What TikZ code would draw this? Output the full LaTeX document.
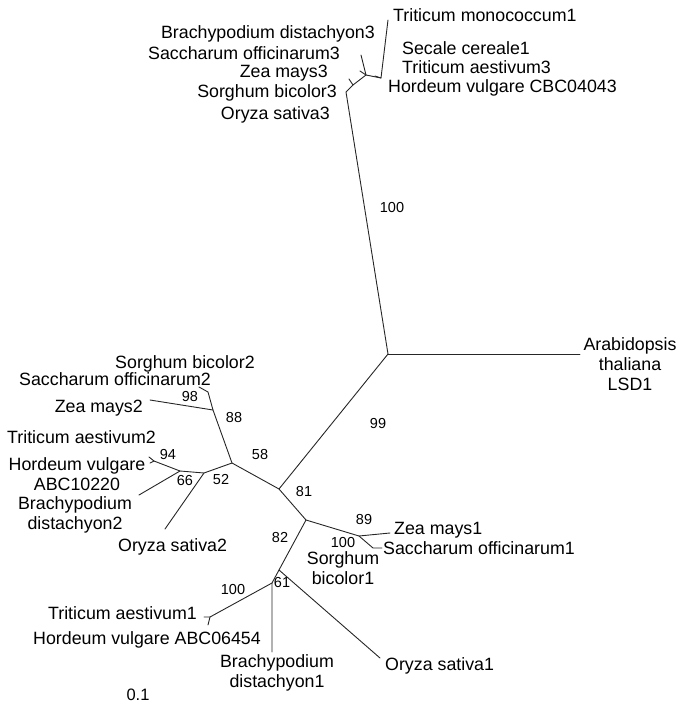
\documentclass[tikz,border=0pt]{standalone}
\usepackage{fontspec}
\setmainfont{Liberation Sans}
\usetikzlibrary{positioning}
\tikzset{
  br/.style={draw=black!85,line width=0.9pt,line cap=round,line join=round},
  taxon/.style={font=\fontsize{17.8}{20}\selectfont,inner sep=0pt,align=center},
  boot/.style={font=\fontsize{14.5}{16}\selectfont,inner sep=0pt},
  scl/.style={font=\fontsize{16.5}{18}\selectfont,inner sep=0pt}
}
\begin{document}
\begin{tikzpicture}[x=1pt,y=-1pt]
\useasboundingbox (0,0) rectangle (680,704);
% inner nodes
\coordinate (c) at (388,354);
\coordinate (t1) at (346,92);
\coordinate (t2) at (353,85);
\coordinate (t4) at (366,75);
\coordinate (t5) at (381,78);
\coordinate (n81) at (279,489);
\coordinate (n58) at (232,463);
\coordinate (n98) at (213,410);
\coordinate (n52) at (204,473);
\coordinate (n66) at (180,471);
\coordinate (h2) at (154,461);
\coordinate (n82) at (306,520);
\coordinate (n89) at (359,536);
\coordinate (na) at (279,570);
\coordinate (nb) at (272,583);
\coordinate (n100) at (210,617);
% tips
\coordinate (arab) at (580,354);
\coordinate (mono) at (388,20);
\coordinate (k1) at (349,79);
\coordinate (k2) at (361,55);
\coordinate (k3) at (360,71);
\coordinate (k4) at (375,76);
\coordinate (zea2) at (150,400);
\coordinate (s2a) at (208,392);
\coordinate (s2b) at (199,387);
\coordinate (h2a) at (149,457);
\coordinate (h2b) at (150,463);
\coordinate (bra2) at (139,495);
\coordinate (ory2) at (165,529);
\coordinate (zea1) at (390,533);
\coordinate (s1a) at (373,548);
\coordinate (s1b) at (382,548);
\coordinate (ory1) at (380,658);
\coordinate (bra1) at (272,652);
\coordinate (ta1) at (204,617);
\coordinate (hv1) at (208,625);

% branches
\draw[br] (c) -- (arab);
\draw[br] (c) -- (t1) -- (t2) -- (t4) -- (t5) -- (mono);
\draw[br] (t2) -- (k1);
\draw[br] (t4) -- (k2);
\draw[br] (t4) -- (k3);
\draw[br] (t5) -- (k4);
\draw[br] (c) -- (n81) -- (n58) -- (n98) -- (zea2);
\draw[br] (n98) -- (s2a) -- (s2b);
\draw[br] (n58) -- (n52) -- (n66) -- (h2) -- (h2a);
\draw[br] (h2) -- (h2b);
\draw[br] (n66) -- (bra2);
\draw[br] (n52) -- (ory2);
\draw[br] (n81) -- (n82) -- (n89) -- (zea1);
\draw[br] (n89) -- (s1a) -- (s1b);
\draw[br] (n82) -- (na) -- (ory1);
\draw[br] (na) -- (nb) -- (bra1);
\draw[br] (nb) -- (n100) -- (ta1);
\draw[br] (n100) -- (hv1);

% taxa
\node[taxon,anchor=base west] (lmono) at (393,21) {Triticum monococcum1};
\node[taxon,anchor=base west] (lsec) at (402,54) {Secale cereale1};
\node[taxon,anchor=base west] (lta3) at (402,73) {Triticum aestivum3};
\node[taxon,anchor=base west] (lhv3) at (388,92) {Hordeum vulgare CBC04043};
\node[taxon,anchor=base east] (lbd3) at (375,38) {Brachypodium distachyon3};
\node[taxon,anchor=base east] (lso3) at (340,59) {Saccharum officinarum3};
\node[taxon,anchor=base east] (lzm3) at (328,77) {Zea mays3};
\node[taxon,anchor=base east] (lsb3) at (337,97) {Sorghum bicolor3};
\node[taxon,anchor=base east] (los3) at (330,119) {Oryza sativa3};
\node[taxon] (larab) at (630,364) {Arabidopsis\\thaliana\\LSD1};
\node[taxon,anchor=base] (lsb2) at (185,368) {Sorghum bicolor2};
\node[taxon,anchor=base east] (lso2) at (211,385) {Saccharum officinarum2};
\node[taxon,anchor=base east] (lzm2) at (143,412) {Zea mays2};
\node[taxon,anchor=base west] (lta2) at (7,443) {Triticum aestivum2};
\node[taxon] (lhv2) at (77,474) {Hordeum vulgare\\ABC10220};
\node[taxon] (lbd2) at (75,515) {Brachypodium\\distachyon2};
\node[taxon,anchor=base west] (los2) at (118,551) {Oryza sativa2};
\node[taxon,anchor=base west] (lzm1) at (394,534) {Zea mays1};
\node[taxon,anchor=base west] (lso1) at (383,554) {Saccharum officinarum1};
\node[taxon] (lsb1) at (343,568) {Sorghum\\bicolor1};
\node[taxon,anchor=base west] (los1) at (385,670) {Oryza sativa1};
\node[taxon] (lbd1) at (277,673) {Brachypodium\\distachyon1};
\node[taxon,anchor=base east] (lta1) at (197,619) {Triticum aestivum1};
\node[taxon,anchor=base east] (lhv1) at (261,644) {Hordeum vulgare ABC06454};
\node[scl,anchor=base] (lscale) at (138,700) {0.1};

% bootstrap values
\node[boot] (b1) at (392,208) {100};
\node[boot] (b2) at (378,424) {99};
\node[boot] (b3) at (304,492) {81};
\node[boot] (b4) at (260,455) {58};
\node[boot] (b5) at (234,418) {88};
\node[boot] (b6) at (190,397) {98};
\node[boot] (b7) at (168,455) {94};
\node[boot] (b8) at (185,481) {66};
\node[boot] (b9) at (221,480) {52};
\node[boot] (b10) at (280,538) {82};
\node[boot] (b11) at (282,583) {61};
\node[boot] (b12) at (364,520) {89};
\node[boot] (b13) at (343,543) {100};
\node[boot] (b14) at (233,590) {100};
\end{tikzpicture}
\end{document}
